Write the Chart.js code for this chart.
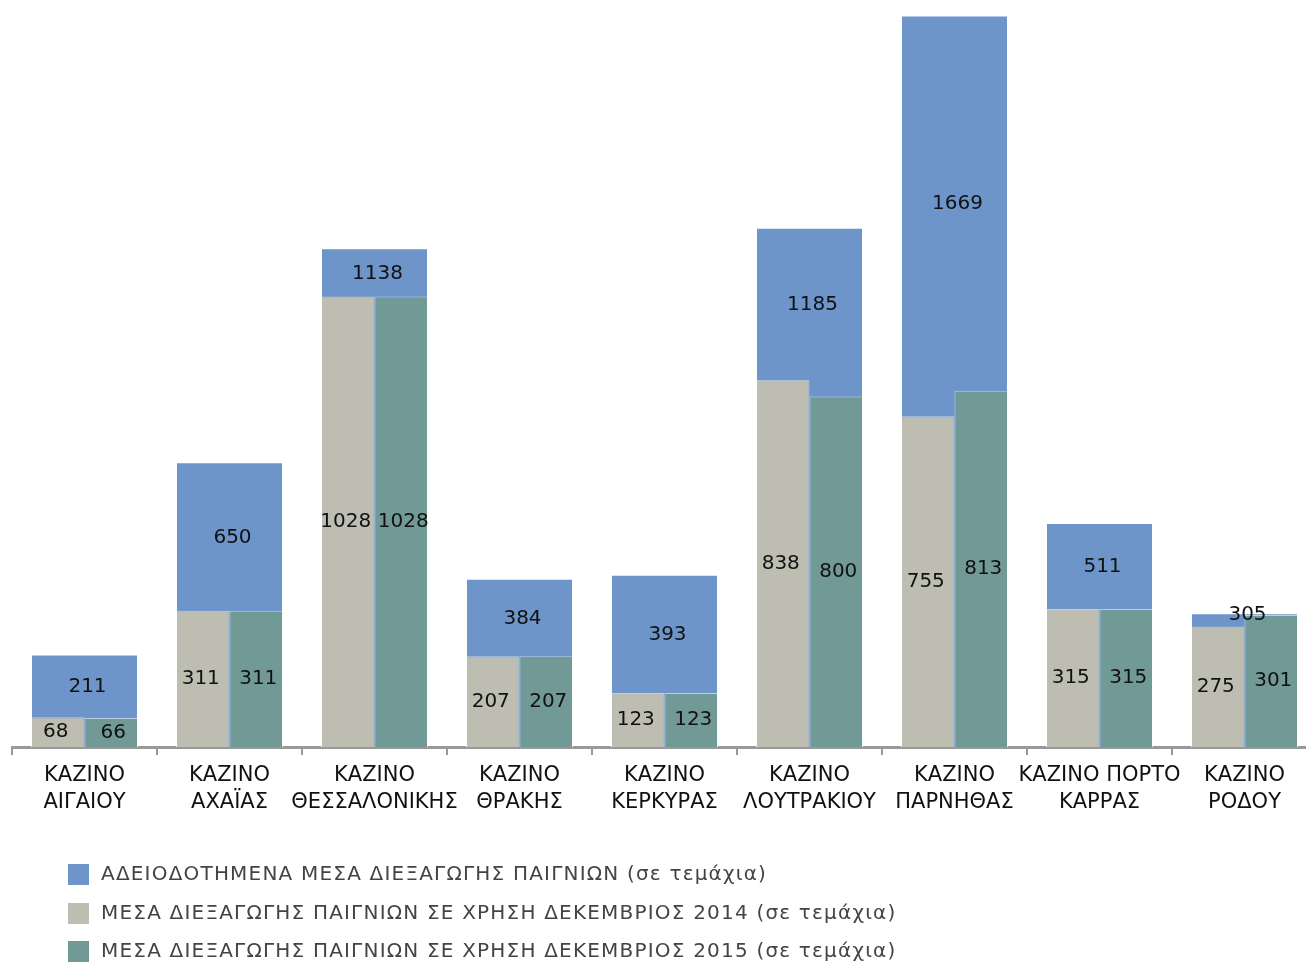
<!DOCTYPE html>
<html>
<head>
<meta charset="utf-8">
<script src="https://cdn.jsdelivr.net/npm/chart.js@4/dist/chart.umd.min.js"></script>
<style>
  html, body { margin: 0; padding: 0; background: #fff; overflow: hidden; }
  #wrap { position: relative; width: 1306px; height: 967px; overflow: hidden; }
  #chart { position: absolute; left: 0; top: 0; }
  #legend { position: absolute; left: 68px; top: 861px; font-family: "DejaVu Sans", sans-serif; font-size: 20px; letter-spacing: 1.2px; color: #444; }
  #legend div { height: 38.5px; display: flex; align-items: flex-start; }
  #legend span.box { display: inline-block; width: 21px; height: 21px; margin-right: 12px; margin-top: 3px; }
</style>
</head>
<body>
<div id="wrap">
  <canvas id="chart" width="1320" height="967"></canvas>
  <div id="legend"></div>
</div>
<script>
// casinos
const casinos = [
    ['ΚΑΖΙΝΟ', 'ΑΙΓΑΙΟΥ'],
    ['ΚΑΖΙΝΟ', 'ΑΧΑΪΑΣ'],
    ['ΚΑΖΙΝΟ', 'ΘΕΣΣΑΛΟΝΙΚΗΣ'],
    ['ΚΑΖΙΝΟ', 'ΘΡΑΚΗΣ'],
    ['ΚΑΖΙΝΟ', 'ΚΕΡΚΥΡΑΣ'],
    ['ΚΑΖΙΝΟ', 'ΛΟΥΤΡΑΚΙΟΥ'],
    ['ΚΑΖΙΝΟ', 'ΠΑΡΝΗΘΑΣ'],
    ['ΚΑΖΙΝΟ ΠΟΡΤΟ', 'ΚΑΡΡΑΣ'],
    ['ΚΑΖΙΝΟ', 'ΡΟΔΟΥ']
];

const licensed = [211, 650, 1138, 384, 393, 1185, 1669, 511, 305];
const inUse2014 = [68, 311, 1028, 207, 123, 838, 755, 315, 275];
const inUse2015 = [66, 311, 1028, 207, 123, 800, 813, 315, 301];

const seriesNames = [
    'ΑΔΕΙΟΔΟΤΗΜΕΝΑ ΜΕΣΑ ΔΙΕΞΑΓΩΓΗΣ ΠΑΙΓΝΙΩΝ (σε τεμάχια)',
    'ΜΕΣΑ ΔΙΕΞΑΓΩΓΗΣ ΠΑΙΓΝΙΩΝ ΣΕ ΧΡΗΣΗ ΔΕΚΕΜΒΡΙΟΣ 2014 (σε τεμάχια)',
    'ΜΕΣΑ ΔΙΕΞΑΓΩΓΗΣ ΠΑΙΓΝΙΩΝ ΣΕ ΧΡΗΣΗ ΔΕΚΕΜΒΡΙΟΣ 2015 (σε τεμάχια)'
];
const colors = ['#6d95c9', '#bdbdb1', '#719995'];

// legend (html, stacked on the left)
const legendEl = document.getElementById('legend');
seriesNames.forEach((name, i) => {
    const row = document.createElement('div');
    row.innerHTML = '<span class="box" style="background:' + colors[i] + '"></span><span>' + name + '</span>';
    legendEl.appendChild(row);
});

// value labels inside the bars
const barLabels = {
    id: 'barLabels',
    afterDatasetsDraw(chart) {
        const ctx = chart.ctx;
        const blue = chart.getDatasetMeta(0).data;
        const grey = chart.getDatasetMeta(1).data;
        const teal = chart.getDatasetMeta(2).data;
        ctx.save();
        ctx.font = '20px "DejaVu Sans"';
        ctx.fillStyle = '#111';
        ctx.textAlign = 'center';
        ctx.textBaseline = 'middle';
        blue.forEach((bar, i) => {
            const inner = Math.min(grey[i].y, teal[i].y);
            ctx.fillText(licensed[i], bar.x + 3, (bar.y + inner) / 2 + 1);
        });
        grey.forEach((bar, i) => {
            ctx.fillText(inUse2014[i], bar.x - 2, (bar.y + bar.base) / 2);
        });
        teal.forEach((bar, i) => {
            ctx.fillText(inUse2015[i], bar.x + 2, (bar.y + bar.base) / 2);
        });
        ctx.restore();
    }
};

new Chart(document.getElementById('chart'), {
    type: 'bar',
    data: {
        labels: casinos,
        datasets: [
            {
                label: seriesNames[0],
                data: licensed,
                backgroundColor: colors[0],
                borderColor: 'rgba(255,255,255,0.55)',
                borderWidth: 1,
                grouped: false,
                order: 1
            },
            {
                label: seriesNames[1],
                data: inUse2014,
                backgroundColor: colors[1],
                borderColor: 'rgba(255,255,255,0.55)',
                borderWidth: 1,
                order: 0
            },
            {
                label: seriesNames[2],
                data: inUse2015,
                backgroundColor: colors[2],
                borderColor: 'rgba(255,255,255,0.55)',
                borderWidth: 1,
                order: 0
            }
        ]
    },
    options: {
        responsive: false,
        animation: false,
        devicePixelRatio: 1,
        layout: { padding: { left: 12, right: 3, top: 2, bottom: 150 } },
        datasets: {
            bar: { categoryPercentage: 0.738, barPercentage: 1 }
        },
        plugins: {
            legend: { display: false },
            tooltip: { enabled: false }
        },
        scales: {
            x: {
                afterFit(scale) { scale.height = 70; },
                grid: {
                    drawOnChartArea: false,
                    drawTicks: true,
                    tickLength: 8,
                    color: '#999',
                    lineWidth: 2
                },
                border: { color: '#999', width: 3 },
                ticks: {
                    autoSkip: false,
                    maxRotation: 0,
                    minRotation: 0,
                    padding: 7,
                    color: '#111',
                    font: { family: '"DejaVu Sans"', size: 21, lineHeight: 1.3 }
                }
            },
            y: {
                display: false,
                min: 0,
                max: 1700
            }
        }
    },
    plugins: [barLabels]
});
</script>
</body>
</html>
